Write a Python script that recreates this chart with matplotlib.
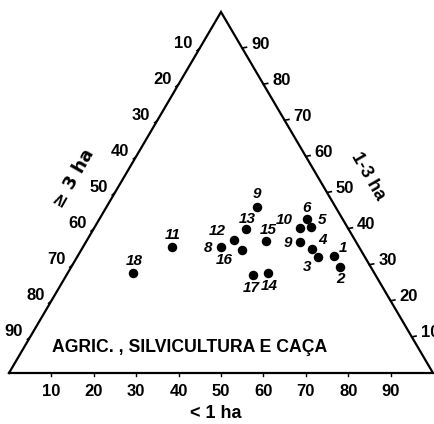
import numpy as np
import matplotlib
matplotlib.use("Agg")
import matplotlib.pyplot as plt

# share of each municipality by holding size (%): < 1 ha, 1-3 ha, >= 3 ha
labels = ["9", "6", "5", "10", "9", "4", "3", "1", "2",
          "13", "12", "15", "8", "16", "11", "18", "17", "14"]
small = [35.5, 49.0, 51.0, 48.6, 50.4, 54.3, 56.8, 60.4, 63.3,
         36.0, 34.7, 42.3, 32.6, 38.0, 21.0, 15.4, 44.0, 47.1]
medium = [45.9, 42.7, 40.5, 40.1, 36.4, 34.3, 32.2, 32.4, 29.3,
          39.8, 36.8, 36.6, 34.9, 34.1, 34.8, 27.7, 27.2, 27.8]
large = [100 - s - m for s, m in zip(small, medium)]

ticks = [10, 20, 30, 40, 50, 60, 70, 80, 90]
title = "AGRIC. , SILVICULTURA E CAÇA"

# label offsets (pixels) next to each dot
lab_dx = [0, -1, 7, -7, -8, 6, -7, 5, 1, 1, -8, 2, -9, -10, 1, 1, -2, 2]
lab_dy = [13, 11, 7, 8, -1, 9, -10, 8, -12, 10, 9, 11, -1, -10, 12, 12, -13, -13]
lab_ha = ["center", "center", "left", "right", "right", "left", "right", "left", "center",
          "center", "right", "center", "right", "right", "center", "center", "center", "center"]

R3 = np.sqrt(3) / 2


def tern(a, b):
    # a = < 1 ha (bottom), b = 1-3 ha (height)
    a = np.asarray(a, float)
    b = np.asarray(b, float)
    return a + b / 2, b * R3


pt = 0.72  # points per pixel at dpi 100
num_font = ["Liberation Sans Narrow", "DejaVu Sans Condensed", "Liberation Sans", "DejaVu Sans"]

fig = plt.figure(figsize=(4.34, 4.24), dpi=100)
ax = fig.add_axes([0, 0, 1, 1])
ax.set_xlim(-9 / 4.24, 425 / 4.24)
ax.set_ylim(-51 / 4.1686, 373 / 4.1686)
ax.axis("off")

# triangle
ax.plot([0, 100, 50, 0], [0, 0, 100 * R3, 0], color="black", lw=1.6,
        solid_joinstyle="miter", clip_on=False)

for t in ticks:
    # bottom scale (< 1 ha)
    x, y = tern(t, 0)
    ax.plot([x, x], [y, y - 0.6], color="black", lw=1)
    ax.annotate(str(t), (x, y), xytext=(0, -19 * pt), textcoords="offset points",
                ha="center", va="center", fontsize=12, fontweight="bold", family=num_font)
    # right scale (1-3 ha)
    x, y = tern(100 - t, t)
    ax.plot([x, x + 1.0], [y, y + 0.2], color="black", lw=1.2)
    ax.annotate(str(t), (x, y), xytext=(9 * pt, 4 * pt), textcoords="offset points",
                ha="left", va="center", fontsize=12, fontweight="bold", family=num_font)
    # left scale (>= 3 ha)
    x, y = tern(0, 100 - t)
    ax.plot([x, x - 0.7], [y, y - 0.6], color="black", lw=1)
    ax.annotate(str(t), (x, y), xytext=(-7 * pt, 5 * pt), textcoords="offset points",
                ha="right", va="center", fontsize=12, fontweight="bold", family=num_font)

# points and their numbers
px, py = tern(small, medium)
ax.scatter(px, py, s=34, color="black", zorder=3)
for i, lab in enumerate(labels):
    ax.annotate(lab, (px[i], py[i]), xytext=(lab_dx[i] * pt, lab_dy[i] * pt),
                textcoords="offset points", ha=lab_ha[i], va="center",
                fontsize=11, style="italic", fontweight="bold", family=num_font)

ax.text(52 / 4.24 - 9 / 4.24, (373 - 348) / 4.1686, title, ha="left", va="center",
        fontsize=12.7, fontweight="bold", family="Liberation Sans")

ax.text((74 - 9) / 4.24, (373 - 178) / 4.1686, "≥ 3 ha", rotation=60,
        ha="center", va="center", fontsize=13, fontweight="bold", family="DejaVu Sans")
ax.text((368 - 9) / 4.24, (373 - 176) / 4.1686, "1-3 ha", rotation=-60,
        ha="center", va="center", fontsize=13, fontweight="bold", family="Liberation Sans")
ax.text((216 - 9) / 4.24, (373 - 413) / 4.1686, "< 1 ha",
        ha="center", va="center", fontsize=13, fontweight="bold", family="Liberation Sans")

fig.savefig("out.png", dpi=100, facecolor="white")
